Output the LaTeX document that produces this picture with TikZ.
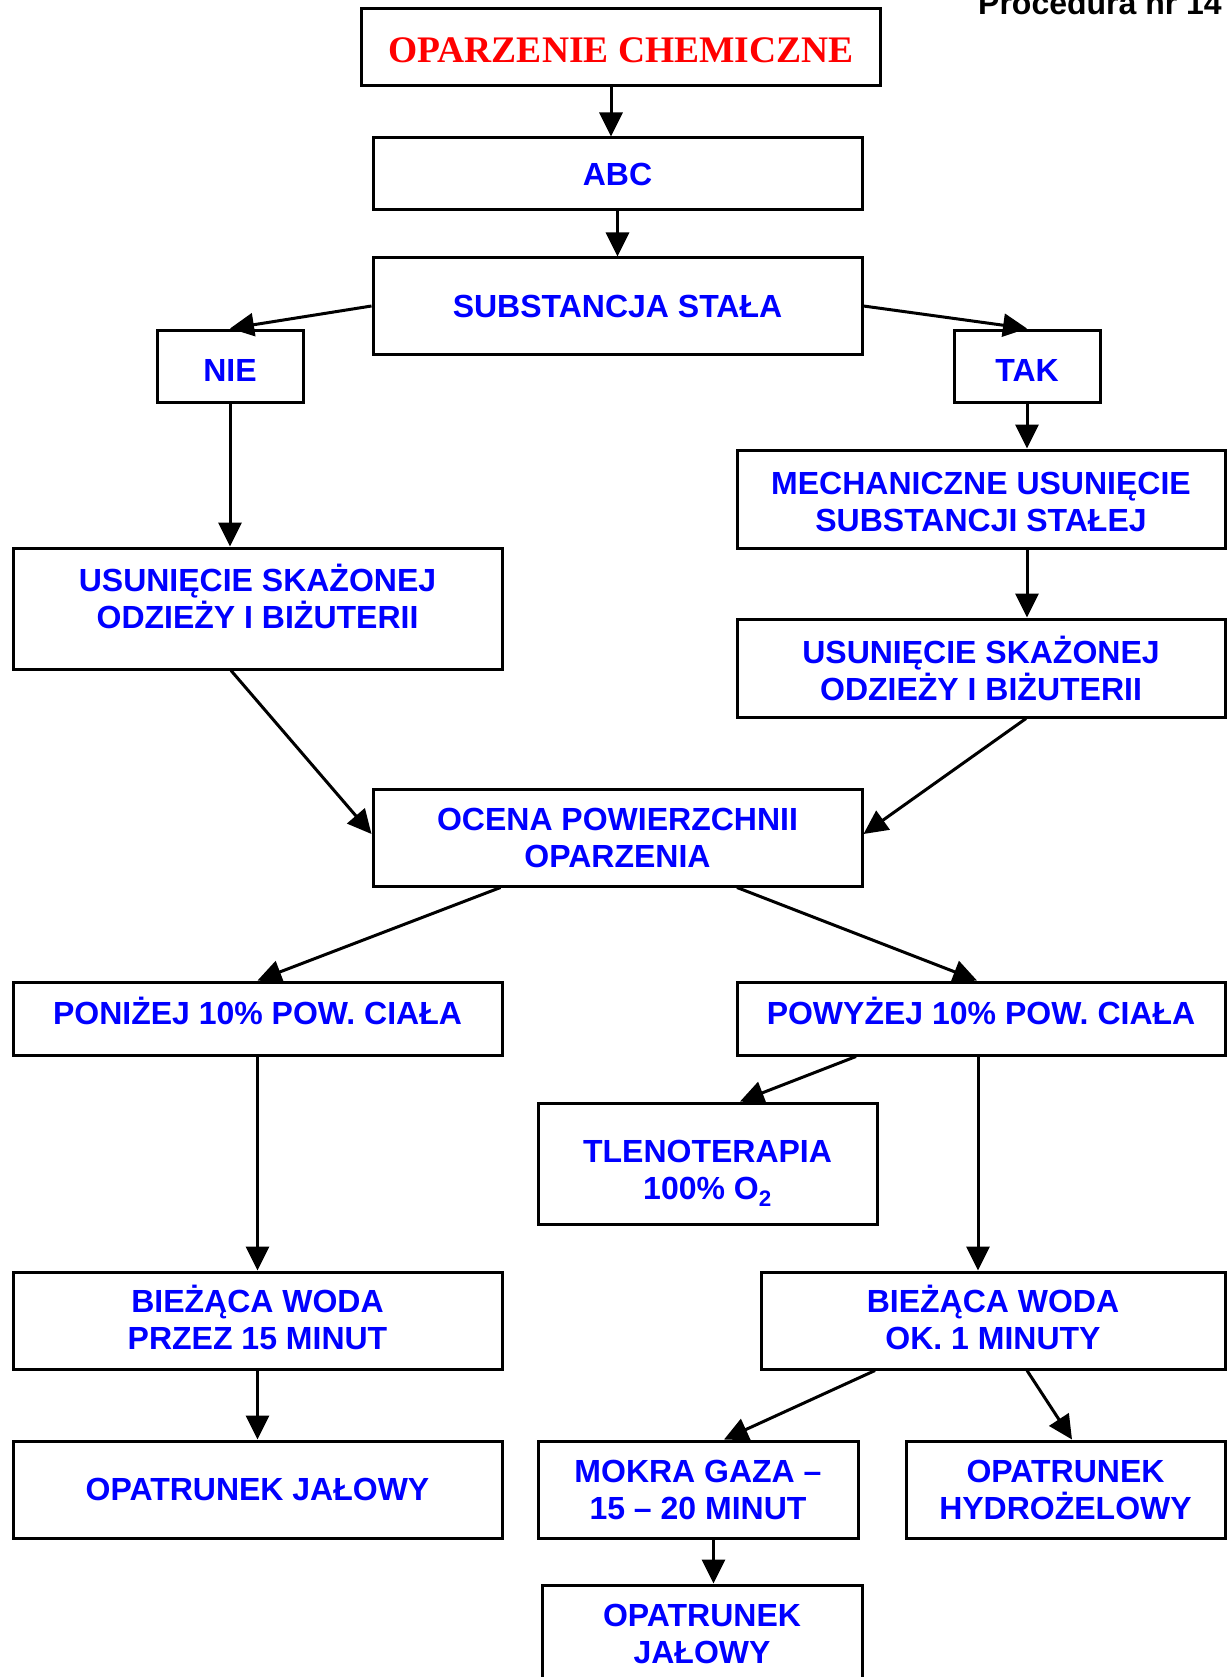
\documentclass[tikz,border=0pt]{standalone}
\usepackage{fontspec}
\setmainfont{Liberation Sans}
\newfontfamily\titlefont{Liberation Serif}
\usetikzlibrary{arrows.meta}
\definecolor{tblue}{RGB}{0,0,255}
\definecolor{tred}{RGB}{255,0,0}
\begin{document}
\begin{tikzpicture}[x=1pt,y=-1pt,
  box/.style={draw, line width=3pt, fill=white, inner sep=0pt, align=center,
    text=tblue, font=\fontsize{32}{37}\selectfont\bfseries},
  txt/.style={inner sep=0pt, align=center, text=tblue, font=\fontsize{32}{37}\selectfont\bfseries},
  arr/.style={line width=3pt, -{Triangle[length=24pt,width=23pt]}}]
\useasboundingbox (0,0) rectangle (1227,1677);

\node[anchor=base east, inner sep=0pt, font=\fontsize{32}{37}\selectfont\bfseries] (proc) at (1222,15) {Procedura nr 14};

% boxes
\node[box, minimum width=519pt, minimum height=77pt] (top) at (621,47) {};
\node[box, minimum width=489pt, minimum height=72pt] (abc) at (617.5,174) {ABC};
\node[box, minimum width=489pt, minimum height=96pt] (sub) at (617.5,306) {SUBSTANCJA STAŁA};
\node[box, minimum width=146pt, minimum height=72pt] (nie) at (230,366) {};
\node[box, minimum width=146pt, minimum height=72pt] (tak) at (1027,366) {};
\node[box, minimum width=488pt, minimum height=98pt] (mech) at (981,499) {};
\node[box, minimum width=489pt, minimum height=121pt] (usul) at (257.5,608.5) {};
\node[box, minimum width=488pt, minimum height=98pt] (usur) at (981,668) {USUNIĘCIE SKAŻONEJ\\ODZIEŻY I BIŻUTERII};
\node[box, minimum width=489pt, minimum height=97pt] (ocena) at (617.5,837.5) {OCENA POWIERZCHNII\\OPARZENIA};
\node[box, minimum width=489pt, minimum height=73pt] (ponizej) at (257.5,1018.5) {};
\node[box, minimum width=488pt, minimum height=73pt] (powyzej) at (981,1018.5) {};
\node[box, minimum width=339pt, minimum height=121pt] (tlen) at (707.5,1163.5) {};
\node[box, minimum width=489pt, minimum height=97pt] (biezl) at (257.5,1320.5) {};
\node[box, minimum width=464pt, minimum height=97pt] (biezr) at (993,1320.5) {};
\node[box, minimum width=489pt, minimum height=97pt] (opl) at (257.5,1489.5) {OPATRUNEK JAŁOWY};
\node[box, minimum width=320pt, minimum height=97pt] (mokra) at (698,1489.5) {MOKRA GAZA –\\15 – 20 MINUT};
\node[box, minimum width=319pt, minimum height=97pt] (hydro) at (1065.5,1489.5) {OPATRUNEK\\HYDROŻELOWY};
\node[box, minimum width=320pt, minimum height=97pt] (opb) at (702,1633.5) {OPATRUNEK\\JAŁOWY};

% texts placed inside boxes
\node[txt, text=tred, font=\titlefont\fontsize{37.5}{42}\selectfont\bfseries] (top-t) at ([yshift=-3pt]top.center) {OPARZENIE CHEMICZNE};
\node[txt] (nie-t) at ([yshift=-4pt]nie.center) {NIE};
\node[txt] (tak-t) at ([yshift=-4pt]tak.center) {TAK};
\node[txt] (mech-t) at ([yshift=-3pt]mech.center) {MECHANICZNE USUNIĘCIE\\SUBSTANCJI STAŁEJ};
\node[txt] (usul-t) at ([yshift=12pt]usul.center) {USUNIĘCIE SKAŻONEJ\\ODZIEŻY I BIŻUTERII};
\node[txt] (ponizej-t) at ([yshift=7.5pt]ponizej.center) {PONIŻEJ 10\% POW. CIAŁA};
\node[txt] (powyzej-t) at ([yshift=7.5pt]powyzej.center) {POWYŻEJ 10\% POW. CIAŁA};
\node[txt] (tlen-t) at ([yshift=-10pt]tlen.center) {TLENOTERAPIA\\100\% O\textsubscript{2}};
\node[txt] (biezl-t) at ([yshift=3pt]biezl.center) {BIEŻĄCA WODA\\PRZEZ 15 MINUT};
\node[txt] (biezr-t) at ([yshift=3pt]biezr.center) {BIEŻĄCA WODA\\OK. 1 MINUTY};

% connectors
\draw[arr] ([xshift=-10pt]top.south) -- ([xshift=-6.5pt]abc.north);
\draw[arr] (abc.south) -- (sub.north);
\draw[arr] (sub.west) -- (nie.north);
\draw[arr] (sub.east) -- (tak.north);
\draw[arr] (nie.south) -- (nie.south |- usul.north);
\draw[arr] (tak.south) -- (tak.south |- mech.north);
\draw[arr] (tak.south |- mech.south) -- (tak.south |- usur.north);
\draw[arr] ([xshift=-26.5pt]usul.south) -- ([yshift=3.5pt]ocena.west);
\draw[arr] ([xshift=45pt]usur.south) -- ([yshift=3.5pt]ocena.east);
\draw[arr] ([xshift=-117pt]ocena.south) -- (ponizej.north);
\draw[arr] ([xshift=119.5pt]ocena.south) -- ([xshift=-4pt]powyzej.north);
\draw[arr] ([xshift=-125pt]powyzej.south) -- ([xshift=32.5pt]tlen.north);
\draw[arr] ([xshift=-3pt]powyzej.south) -- ([xshift=-15pt]biezr.north);
\draw[arr] (ponizej.south) -- (biezl.north);
\draw[arr] (biezl.south) -- (opl.north);
\draw[arr] ([xshift=-118pt]biezr.south) -- ([xshift=26pt]mokra.north);
\draw[arr] ([xshift=34pt]biezr.south) -- ([xshift=6.5pt]hydro.north);
\draw[arr] ([xshift=15.5pt]mokra.south) -- ([xshift=11.5pt]opb.north);
\end{tikzpicture}
\end{document}
